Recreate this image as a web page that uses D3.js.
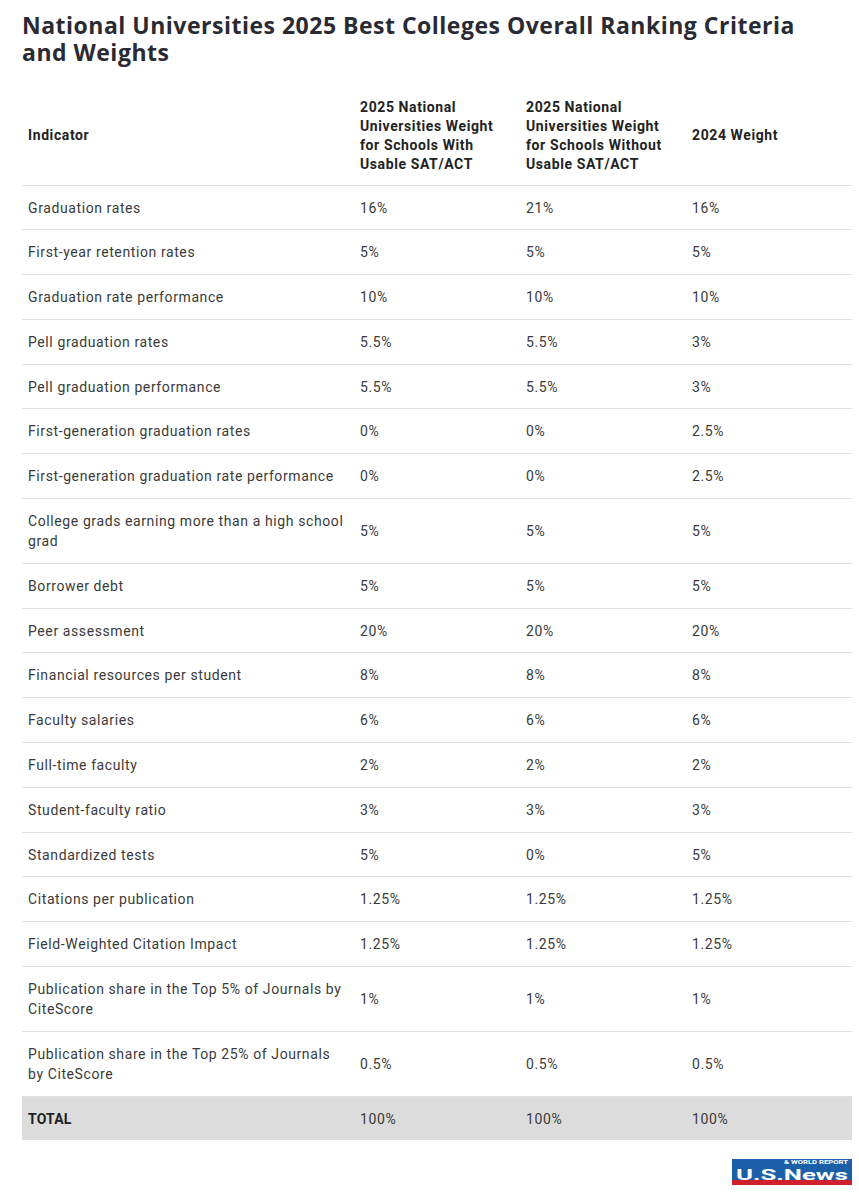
<!DOCTYPE html>
<html>
<head>
<meta charset="utf-8">
<script src="https://cdn.jsdelivr.net/npm/d3@7"></script>
<style>
  body { margin: 0; background: #fff; font-family: Roboto, sans-serif; color: #333; }
  #wrap { width: 830px; margin-left: 22px; }
  h1 {
    font-family: "Open Sans", sans-serif; font-weight: 700; font-size: 23px;
    line-height: 27px; color: #2a2a33; margin: 12px 0 0 0; letter-spacing: 0.5px;
    width: 795px;
  }
  table { border-collapse: collapse; width: 830px; margin-top: 21px; table-layout: fixed; }
  th, td { text-align: left; font-size: 14px; vertical-align: middle; letter-spacing: 0.6px; }
  th { font-weight: 700; line-height: 19px; color: #222; padding: 10.5px 6px 11px 6px; }
  td { line-height: 20px; color: #3a3a3a; padding: 12px 6px 11.8px 6px; }
  tr { border-bottom: 1px solid #e0e0e0; }
  tr.total { background: #dcdcdc; border-bottom: none; }
  tr.total td:first-child { font-weight: 700; color: #222; letter-spacing: 0.2px; }
  #logo { margin-top: 19px; margin-left: 710px; }
</style>
</head>
<body>
<div id="wrap">
  <h1>National Universities 2025 Best Colleges Overall Ranking Criteria and Weights</h1>
  <div id="table"></div>
  <div id="logo"></div>
</div>
<script>
const columns = [
  "Indicator",
  "2025 National Universities Weight for Schools With Usable SAT/ACT",
  "2025 National Universities Weight for Schools Without Usable SAT/ACT",
  "2024 Weight"
];
const indicators = [
  "Graduation rates",
  "First-year retention rates",
  "Graduation rate performance",
  "Pell graduation rates",
  "Pell graduation performance",
  "First-generation graduation rates",
  "First-generation graduation rate performance",
  "College grads earning more than a high school grad",
  "Borrower debt",
  "Peer assessment",
  "Financial resources per student",
  "Faculty salaries",
  "Full-time faculty",
  "Student-faculty ratio",
  "Standardized tests",
  "Citations per publication",
  "Field-Weighted Citation Impact",
  "Publication share in the Top 5% of Journals by CiteScore",
  "Publication share in the Top 25% of Journals by CiteScore"
];
const weight_2025_with = ["16%", "5%", "10%", "5.5%", "5.5%", "0%", "0%", "5%", "5%", "20%", "8%", "6%", "2%", "3%", "5%", "1.25%", "1.25%", "1%", "0.5%"];
const weight_2025_without = ["21%", "5%", "10%", "5.5%", "5.5%", "0%", "0%", "5%", "5%", "20%", "8%", "6%", "2%", "3%", "0%", "1.25%", "1.25%", "1%", "0.5%"];
const weight_2024 = ["16%", "5%", "10%", "3%", "3%", "2.5%", "2.5%", "5%", "5%", "20%", "8%", "6%", "2%", "3%", "5%", "1.25%", "1.25%", "1%", "0.5%"];
const total_row = ["TOTAL", "100%", "100%", "100%"];

const col_widths = [332, 166, 166, 166];

let rows = indicators.map((name, i) => [name, weight_2025_with[i], weight_2025_without[i], weight_2024[i]]);

let table = d3.select("#table").append("table");
let colgroup = table.append("colgroup");
colgroup.selectAll("col").data(col_widths).enter().append("col").style("width", d => d + "px");

table.append("thead").append("tr")
  .selectAll("th").data(columns).enter().append("th")
  .text(d => d);

let tbody = table.append("tbody");
tbody.selectAll("tr.row").data(rows).enter().append("tr").attr("class", "row")
  .selectAll("td").data(d => d).enter().append("td")
  .text(d => d);

tbody.append("tr").attr("class", "total")
  .selectAll("td").data(total_row).enter().append("td")
  .text(d => d);

// logo
let svg = d3.select("#logo").append("svg").attr("width", 122).attr("height", 28);
svg.append("rect").attr("x", 0).attr("y", 0).attr("width", 120).attr("height", 21).attr("fill", "#1a5fa8");
svg.append("rect").attr("x", 0).attr("y", 21).attr("width", 120).attr("height", 5).attr("fill", "#d0202e");
svg.append("text").attr("x", 4).attr("y", 20.5)
  .attr("font-family", "Roboto, sans-serif").attr("font-weight", 700)
  .attr("font-size", 15).attr("fill", "#fff")
  .attr("textLength", 112).attr("lengthAdjust", "spacingAndGlyphs")
  .text("U.S.News");
svg.append("text").attr("x", 52).attr("y", 4.8)
  .attr("font-family", "Roboto, sans-serif").attr("font-weight", 700)
  .attr("font-size", 4.5).attr("fill", "#fff")
  .attr("textLength", 64).attr("lengthAdjust", "spacingAndGlyphs")
  .text("& WORLD REPORT");
</script>
</body>
</html>
